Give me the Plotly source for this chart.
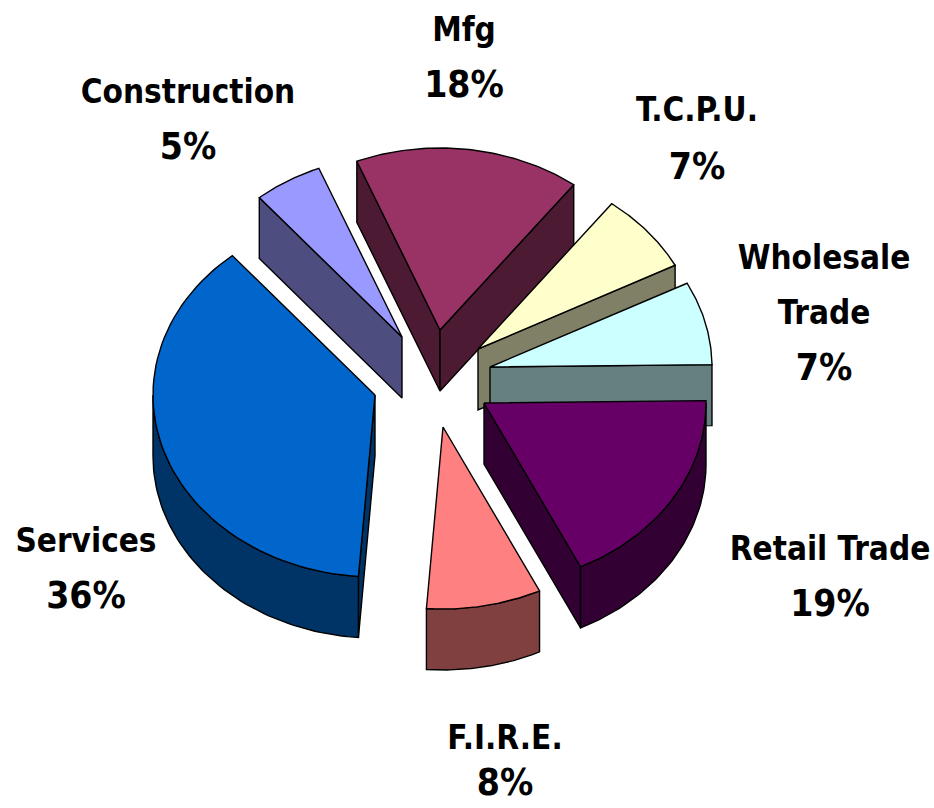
import math
import plotly.graph_objects as go

# Data
categories = ["Construction", "Mfg", "T.C.P.U.", "Wholesale Trade", "Retail Trade", "F.I.R.E.", "Services"]
label_percent = [5, 18, 7, 7, 19, 8, 36]
# share of the circle each slice is actually drawn with (percent), as measured
drawn_share = [5.0, 16.4, 7.1, 7.4, 18.05, 8.35, 37.7]

# Styles and layout
top_colors = ["#9999FF", "#993366", "#FFFFCC", "#CCFFFF", "#660066", "#FF8080", "#0066CC"]
side_colors = ["#4D4D80", "#4D1A33", "#808066", "#668080", "#330033", "#804040", "#003366"]
apex = [(402, 337), (440, 330), (478, 349), (490, 367), (484, 403), (443, 427), (375, 395)]
name_lines = [["Construction"], ["Mfg"], ["T.C.P.U."], ["Wholesale", "Trade"],
              ["Retail Trade"], ["F.I.R.E."], ["Services"]]
label_pos = [(188, 95), (464, 33), (697, 113), (824, 261), (830, 552), (505, 741), (86, 544)]
line_gap = [55, 55, 57, 55, 55, 45, 55]
RX, RY, DEPTH = 222, 182, 61
FIRST_ANGLE = 320.0
NAME_FONT = dict(family="DejaVu Sans Condensed, DejaVu Sans", size=33, color="black")
PCT_FONT = dict(family="DejaVu Sans Condensed, DejaVu Sans", size=37, color="black")


def pt(c, th, dz=0):
    r = math.radians(th)
    return c[0] + RX * math.sin(r), c[1] - RY * math.cos(r) + dz


def arc(c, a, b, dz=0, n=60):
    return [pt(c, a + (b - a) * i / n, dz) for i in range(n + 1)]


fig = go.Figure()


def poly(points, fill):
    xs = [p[0] for p in points] + [points[0][0]]
    ys = [p[1] for p in points] + [points[0][1]]
    fig.add_trace(go.Scatter(x=xs, y=ys, mode="lines", fill="toself", fillcolor=fill,
                             line=dict(color="black", width=1.4), hoverinfo="skip", showlegend=False))


angle = FIRST_ANGLE
for i, share in enumerate(drawn_share):
    a0, a1 = angle, angle + share * 3.6
    angle = a1
    c = apex[i]
    side = side_colors[i]
    # radial cut walls facing the viewer
    if math.sin(math.radians(a0)) < 0:
        p = pt(c, a0)
        poly([c, p, (p[0], p[1] + DEPTH), (c[0], c[1] + DEPTH)], side)
    if math.sin(math.radians(a1)) > 0:
        p = pt(c, a1)
        poly([c, p, (p[0], p[1] + DEPTH), (c[0], c[1] + DEPTH)], side)
    # outer wall: the part of the arc on the near side
    for k in (0, 360):
        lo, hi = max(a0, 90 + k), min(a1, 270 + k)
        if hi > lo:
            poly(arc(c, lo, hi) + arc(c, hi, lo, DEPTH), side)
    # top face
    poly([c] + arc(c, a0, a1), top_colors[i])

for names, pct, pos, gap in zip(name_lines, label_percent, label_pos, line_gap):
    n = len(names)
    fig.add_trace(go.Scatter(x=[pos[0]] * n, y=[pos[1] + gap * j for j in range(n)],
                             mode="text", text=[f"<b>{t}</b>" for t in names], textposition="middle center",
                             textfont=NAME_FONT, hoverinfo="skip", showlegend=False, cliponaxis=False))
    fig.add_trace(go.Scatter(x=[pos[0]], y=[pos[1] + gap * n], mode="text", text=[f"<b>{pct}%</b>"],
                             textposition="middle center", textfont=PCT_FONT, hoverinfo="skip",
                             showlegend=False, cliponaxis=False))

fig.update_layout(width=934, height=808, margin=dict(l=0, r=0, t=0, b=0), paper_bgcolor="white",
                  plot_bgcolor="white", showlegend=False,
                  xaxis=dict(range=[0, 934], visible=False, fixedrange=True),
                  yaxis=dict(range=[808, 0], visible=False, fixedrange=True))
fig.write_html("out.html", config={"displayModeBar": False},
               post_script="document.body.style.margin='0';document.body.style.overflow='hidden';")
